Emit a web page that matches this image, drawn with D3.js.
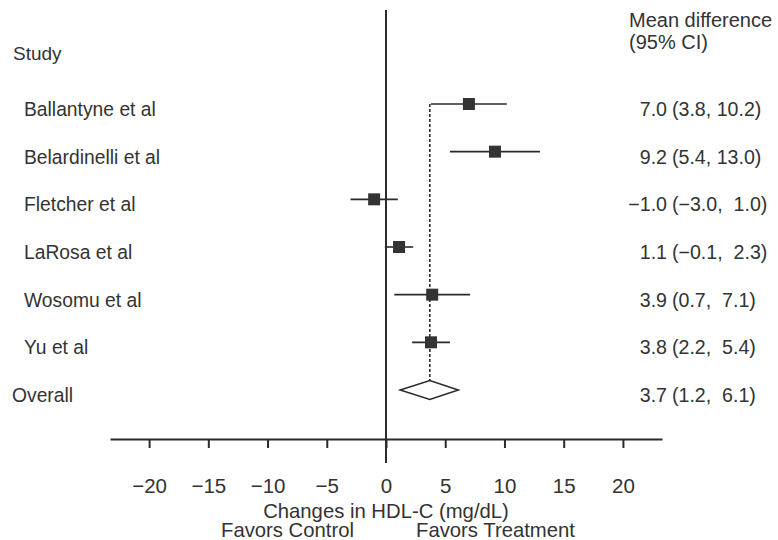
<!DOCTYPE html>
<html>
<head>
<meta charset="utf-8">
<script src="https://cdn.jsdelivr.net/npm/d3@7"></script>
<style>
  body { margin: 0; background: #fff; }
  svg text { font-family: "Liberation Sans", Arial, sans-serif; fill: #333; white-space: pre; }
</style>
</head>
<body>
<div id="chart"></div>
<script>
var studies = ["Ballantyne et al", "Belardinelli et al", "Fletcher et al", "LaRosa et al", "Wosomu et al", "Yu et al"];
var estimates = [7.0, 9.2, -1.0, 1.1, 3.9, 3.8];
var lower = [3.8, 5.4, -3.0, -0.1, 0.7, 2.2];
var upper = [10.2, 13.0, 1.0, 2.3, 7.1, 5.4];
var overallLabel = "Overall";
var overallEstimate = 3.7;
var overallLower = 1.2;
var overallUpper = 6.1;
var tickValues = [-20, -15, -10, -5, 0, 5, 10, 15, 20];

var width = 778, height = 540;
var ink = "#2b2b2b";

var svg = d3.select("#chart").append("svg")
    .attr("width", width)
    .attr("height", height);

var x = d3.scaleLinear().domain([-23.3, 23.3]).range([110, 662]);
var y = d3.scalePoint().domain(studies.concat([overallLabel])).range([104, 390]);

var rows = studies.map(function(s, i) {
  return {name: s, est: estimates[i], lo: lower[i], hi: upper[i]};
});

function fmt(v) { return d3.format(".1f")(v); }
function ciText(lo, hi) {
  // upper bound padded to the width of a two-digit number
  var h = fmt(hi);
  return "(" + fmt(lo) + "," + (Math.abs(hi) < 10 ? "  " : " ") + h + ")";
}

// axis
var axisY = 439;
var axis = svg.append("g")
    .attr("transform", "translate(0," + axisY + ")")
    .call(d3.axisBottom(x).tickValues(tickValues).tickSize(9).tickSizeOuter(0).tickPadding(30));
axis.select(".domain").attr("stroke", ink).attr("stroke-width", 2);
axis.selectAll(".tick line").attr("stroke", ink).attr("stroke-width", 2);
axis.selectAll(".tick text")
    .attr("font-size", 20.5)
    .attr("font-family", "Liberation Sans, Arial, sans-serif")
    .attr("fill", "#333");

// zero line
svg.append("line")
    .attr("x1", x(0)).attr("x2", x(0))
    .attr("y1", 10).attr("y2", 463)
    .attr("stroke", ink).attr("stroke-width", 2);

// dashed line at the overall estimate
svg.append("line")
    .attr("x1", x(overallEstimate)).attr("x2", x(overallEstimate))
    .attr("y1", y(studies[0])).attr("y2", y(overallLabel) + 9)
    .attr("stroke", ink).attr("stroke-width", 1.6)
    .attr("stroke-dasharray", "3,2");

// confidence intervals
svg.selectAll(".ci").data(rows).enter().append("line")
    .attr("class", "ci")
    .attr("x1", function(d) { return x(d.lo); })
    .attr("x2", function(d) { return x(d.hi); })
    .attr("y1", function(d) { return y(d.name); })
    .attr("y2", function(d) { return y(d.name); })
    .attr("stroke", ink).attr("stroke-width", 1.6);

// squares
var sq = 12;
svg.selectAll(".pt").data(rows).enter().append("rect")
    .attr("class", "pt")
    .attr("x", function(d) { return x(d.est) - sq / 2; })
    .attr("y", function(d) { return y(d.name) - sq / 2; })
    .attr("width", sq).attr("height", sq)
    .attr("fill", "#333");

// overall diamond
var oy = y(overallLabel), dh = 9.5;
svg.append("path")
    .attr("d", "M" + x(overallLower) + "," + oy +
               "L" + x(overallEstimate) + "," + (oy - dh) +
               "L" + x(overallUpper) + "," + oy +
               "L" + x(overallEstimate) + "," + (oy + dh) + "Z")
    .attr("fill", "#fff").attr("stroke", ink).attr("stroke-width", 1.6);

// left labels
svg.append("text").attr("x", 13).attr("y", 60).attr("font-size", 19).text("Study");
svg.selectAll(".lbl").data(rows).enter().append("text")
    .attr("class", "lbl")
    .attr("x", 24)
    .attr("y", function(d) { return y(d.name) + 12; })
    .attr("font-size", 19.3)
    .text(function(d) { return d.name; });
svg.append("text").attr("x", 12).attr("y", oy + 12).attr("font-size", 19.3).text(overallLabel);

// right columns
svg.append("text").attr("x", 629).attr("y", 27).attr("font-size", 20).text("Mean difference");
svg.append("text").attr("x", 629).attr("y", 49).attr("font-size", 20).text("(95% CI)");

var allRows = rows.concat([{name: overallLabel, est: overallEstimate, lo: overallLower, hi: overallUpper}]);
svg.selectAll(".est").data(allRows).enter().append("text")
    .attr("class", "est")
    .attr("x", 667)
    .attr("y", function(d) { return y(d.name) + 12; })
    .attr("text-anchor", "end")
    .attr("font-size", 19.6)
    .text(function(d) { return d3.format(".1f")(d.est); });
svg.selectAll(".cit").data(allRows).enter().append("text")
    .attr("class", "cit")
    .attr("x", 672)
    .attr("y", function(d) { return y(d.name) + 12; })
    .attr("font-size", 19.6)
    .text(function(d) { return ciText(d.lo, d.hi); });

// axis titles
svg.append("text").attr("x", x(0)).attr("y", 518).attr("text-anchor", "middle")
    .attr("font-size", 20.3).text("Changes in HDL-C (mg/dL)");
svg.append("text").attr("x", x(0) - 32).attr("y", 537).attr("text-anchor", "end")
    .attr("font-size", 20.3).text("Favors Control");
svg.append("text").attr("x", x(0) + 30).attr("y", 537)
    .attr("font-size", 20.3).text("Favors Treatment");
</script>
</body>
</html>
